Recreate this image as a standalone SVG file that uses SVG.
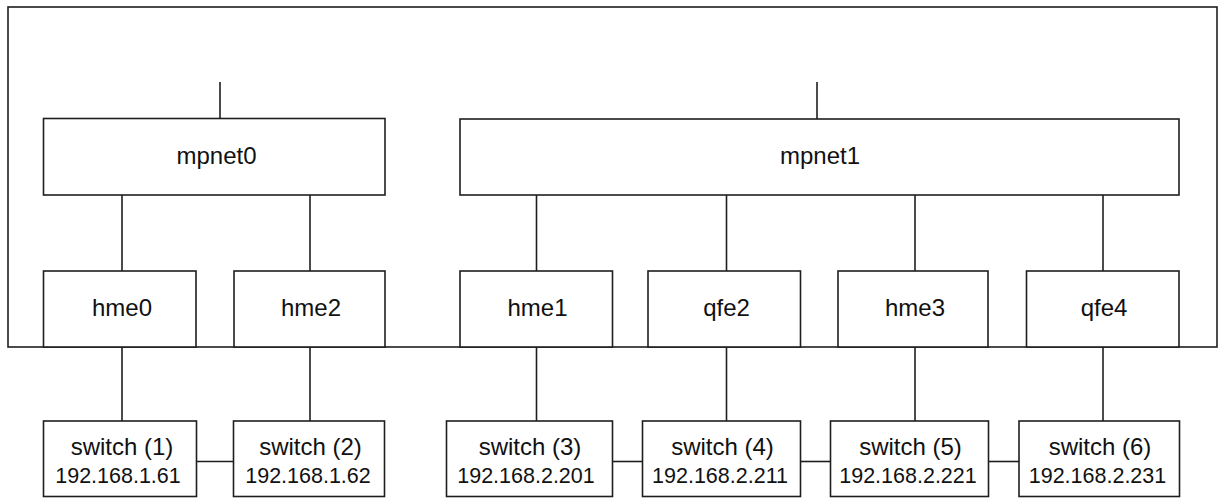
<svg xmlns="http://www.w3.org/2000/svg" width="1218" height="498" viewBox="0 0 1218 498">
<style>
.box{fill:#fff;stroke:#1e1e1e;stroke-width:1.6}
.ln{stroke:#1e1e1e;stroke-width:1.6;fill:none}
.lbl{font-family:"Liberation Sans",Arial,sans-serif;font-size:24px;fill:#111;text-anchor:middle}
.ip{font-family:"Liberation Sans",Arial,sans-serif;font-size:21.5px;fill:#111;text-anchor:middle}
</style>
<rect x="0" y="0" width="1218" height="498" fill="#fff"/>
<g id="host">
<rect class="box" x="8" y="7" width="1209" height="340" fill="none" style="fill:none"/>
</g>
<g id="connectors">
<line class="ln" x1="220" y1="82" x2="220" y2="118.5"/>
<line class="ln" x1="817" y1="82" x2="817" y2="119"/>
<line class="ln" x1="122" y1="195" x2="122" y2="271"/>
<line class="ln" x1="310" y1="195" x2="310" y2="271"/>
<line class="ln" x1="536.5" y1="195" x2="536.5" y2="271"/>
<line class="ln" x1="726.5" y1="195" x2="726.5" y2="271"/>
<line class="ln" x1="915" y1="195" x2="915" y2="271"/>
<line class="ln" x1="1103" y1="195" x2="1103" y2="271"/>
<line class="ln" x1="122" y1="347" x2="122" y2="421"/>
<line class="ln" x1="310" y1="347" x2="310" y2="421"/>
<line class="ln" x1="536.5" y1="347" x2="536.5" y2="421"/>
<line class="ln" x1="726.5" y1="347" x2="726.5" y2="421"/>
<line class="ln" x1="915" y1="347" x2="915" y2="421"/>
<line class="ln" x1="1103" y1="347" x2="1103" y2="421"/>
<line class="ln" x1="196.5" y1="461.5" x2="233.5" y2="461.5"/>
<line class="ln" x1="612.5" y1="461.5" x2="642.5" y2="461.5"/>
<line class="ln" x1="800.5" y1="461.5" x2="830.5" y2="461.5"/>
<line class="ln" x1="988.5" y1="461.5" x2="1019" y2="461.5"/>
</g>
<g id="mpnet0">
<rect class="box" x="43.5" y="118.5" width="341.5" height="76.5"/>
<text class="lbl" x="216.5" y="164">mpnet0</text>
</g>
<g id="mpnet1">
<rect class="box" x="460" y="119" width="719" height="76"/>
<text class="lbl" x="820" y="164">mpnet1</text>
</g>
<g id="hme0">
<rect class="box" x="43.5" y="271" width="152.5" height="76"/>
<text class="lbl" x="122" y="315.5">hme0</text>
</g>
<g id="hme2">
<rect class="box" x="234" y="271" width="151" height="76"/>
<text class="lbl" x="311" y="315.5">hme2</text>
</g>
<g id="hme1">
<rect class="box" x="460" y="271" width="152.5" height="76"/>
<text class="lbl" x="537.5" y="315.5">hme1</text>
</g>
<g id="qfe2">
<rect class="box" x="648" y="271" width="152.5" height="76"/>
<text class="lbl" x="726.5" y="315.5">qfe2</text>
</g>
<g id="hme3">
<rect class="box" x="838" y="271" width="150" height="76"/>
<text class="lbl" x="915" y="315.5">hme3</text>
</g>
<g id="qfe4">
<rect class="box" x="1026.5" y="271" width="152.5" height="76"/>
<text class="lbl" x="1104" y="315.5">qfe4</text>
</g>
<g id="switch1">
<rect class="box" x="43.5" y="421" width="153" height="75.5"/>
<text class="lbl" x="122" y="455">switch (1)</text>
<text class="ip" x="118" y="482.5">192.168.1.61</text>
</g>
<g id="switch2">
<rect class="box" x="233.5" y="421" width="151" height="75.5"/>
<text class="lbl" x="310.5" y="455">switch (2)</text>
<text class="ip" x="308" y="482.5">192.168.1.62</text>
</g>
<g id="switch3">
<rect class="box" x="446.5" y="421" width="166" height="75.5"/>
<text class="lbl" x="530" y="455">switch (3)</text>
<text class="ip" x="526" y="482.5">192.168.2.201</text>
</g>
<g id="switch4">
<rect class="box" x="642.5" y="421" width="158" height="75.5"/>
<text class="lbl" x="722.5" y="455">switch (4)</text>
<text class="ip" x="720" y="482.5">192.168.2.211</text>
</g>
<g id="switch5">
<rect class="box" x="830.5" y="421" width="158" height="75.5"/>
<text class="lbl" x="910.5" y="455">switch (5)</text>
<text class="ip" x="908" y="482.5">192.168.2.221</text>
</g>
<g id="switch6">
<rect class="box" x="1019" y="421" width="160.5" height="75.5"/>
<text class="lbl" x="1100" y="455">switch (6)</text>
<text class="ip" x="1097.5" y="482.5">192.168.2.231</text>
</g>
</svg>
